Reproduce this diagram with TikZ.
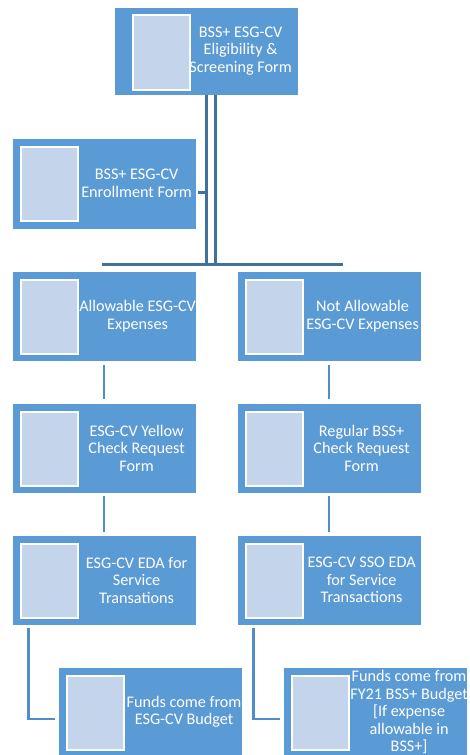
\documentclass[tikz,border=0pt]{standalone}
\usepackage{fontspec}
\setmainfont{Carlito}
\usetikzlibrary{calc}
\definecolor{boxblue}{HTML}{5B9BD5}
\definecolor{picfill}{HTML}{C4D4EA}
\definecolor{darkconn}{HTML}{41719C}
\definecolor{midconn}{HTML}{4F8ECB}
\tikzset{
  box/.style={rectangle, fill=boxblue, draw=white, line width=0.8pt, inner sep=0pt,
    minimum width=184pt, minimum height=90pt},
  picbox/.style={rectangle, fill=picfill, draw=white, line width=2.2pt, inner sep=0pt,
    minimum width=57pt, minimum height=74pt, anchor=north west},
  txt/.style={text=white, align=center, inner sep=0pt,
    font=\fontsize{16.2}{17.5}\selectfont},
  conntop/.style={draw=darkconn, line width=3pt},
  connlow/.style={draw=midconn, line width=2.8pt},
}
\begin{document}
\begin{tikzpicture}[x=1pt,y=-1pt]
\useasboundingbox (0,0) rectangle (469,755);
% boxes
\node[box, minimum height=88pt] (top) at (206,51) {};
\node[box, minimum height=91pt] (enr) at (104,183.5) {};
\node[box] (allow) at (104,316) {};
\node[box] (nall) at (329,316) {};
\node[box] (yel) at (104,448) {};
\node[box] (reg) at (329,448) {};
\node[box] (eda) at (104,580) {};
\node[box] (sso) at (329,580) {};
\node[box] (fl) at (150.5,712) {};
\node[box] (fr) at (375.5,712) {};
% picture placeholders
\node[picbox, minimum height=75pt] (ptop) at ([xshift=18,yshift=-7]top.north west) {};
\foreach \b in {enr,allow,nall,yel,reg,eda,sso,fl,fr}{
  \node[picbox] (p\b) at ([xshift=8,yshift=-8]\b.north west) {};
}
% texts
\node[txt] (ttop) at ([xshift=127]top.west) {BSS+ ESG-CV\\Eligibility \&\\Screening Form};
\node[txt] (tenr) at ([xshift=125]enr.west) {BSS+ ESG-CV\\Enrollment Form};
\node[txt] (tallow) at ([xshift=126]allow.west) {Allowable ESG-CV\\Expenses};
\node[txt] (tnall) at ([xshift=126]nall.west) {Not Allowable\\ESG-CV Expenses};
\node[txt] (tyel) at ([xshift=125]yel.west) {ESG-CV Yellow\\Check Request\\Form};
\node[txt] (treg) at ([xshift=125]reg.west) {Regular BSS+\\Check Request\\Form};
\node[txt] (teda) at ([xshift=125]eda.west) {ESG-CV EDA for\\Service\\Transations};
\node[txt] (tsso) at ([xshift=125]sso.west) {ESG-CV SSO EDA\\for Service\\Transactions};
\node[txt] (tfl) at ([xshift=126]fl.west) {Funds come from\\ESG-CV Budget};
\node[txt] (tfr) at ([xshift=126]fr.west) {Funds come from\\FY21 BSS+ Budget\\{[}If expense\\allowable in\\BSS+{]}};
% connectors
\coordinate (hl) at (103.5,264);
\coordinate (hr) at (341.5,264);
\draw[conntop] (top.south) -- (top.south |- hl);
\draw[conntop] ([xshift=9.5]top.south) -- ([xshift=9.5]top.south |- hl);
\draw[conntop] ([xshift=2,yshift=-8.5]enr.east) -- ([yshift=-8.5]enr.east -| top.south);
\draw[conntop] ([yshift=5]allow.north -| hl) -- (hl) -- (hr) -- ([yshift=5]nall.north -| hr);
\draw[connlow] ([yshift=-4]allow.south) -- ([yshift=4]yel.north);
\draw[connlow] ([yshift=-4]nall.south) -- ([yshift=4]reg.north);
\draw[connlow] ([yshift=-3]yel.south) -- ([yshift=3]eda.north);
\draw[connlow] ([yshift=-3]reg.south) -- ([yshift=3]sso.north);
\draw[connlow] ([xshift=17,yshift=-3]eda.south west) |- ([xshift=-3,yshift=-7]fl.west);
\draw[connlow] ([xshift=17,yshift=-3]sso.south west) |- ([xshift=-3,yshift=-7]fr.west);
\end{tikzpicture}
\end{document}
